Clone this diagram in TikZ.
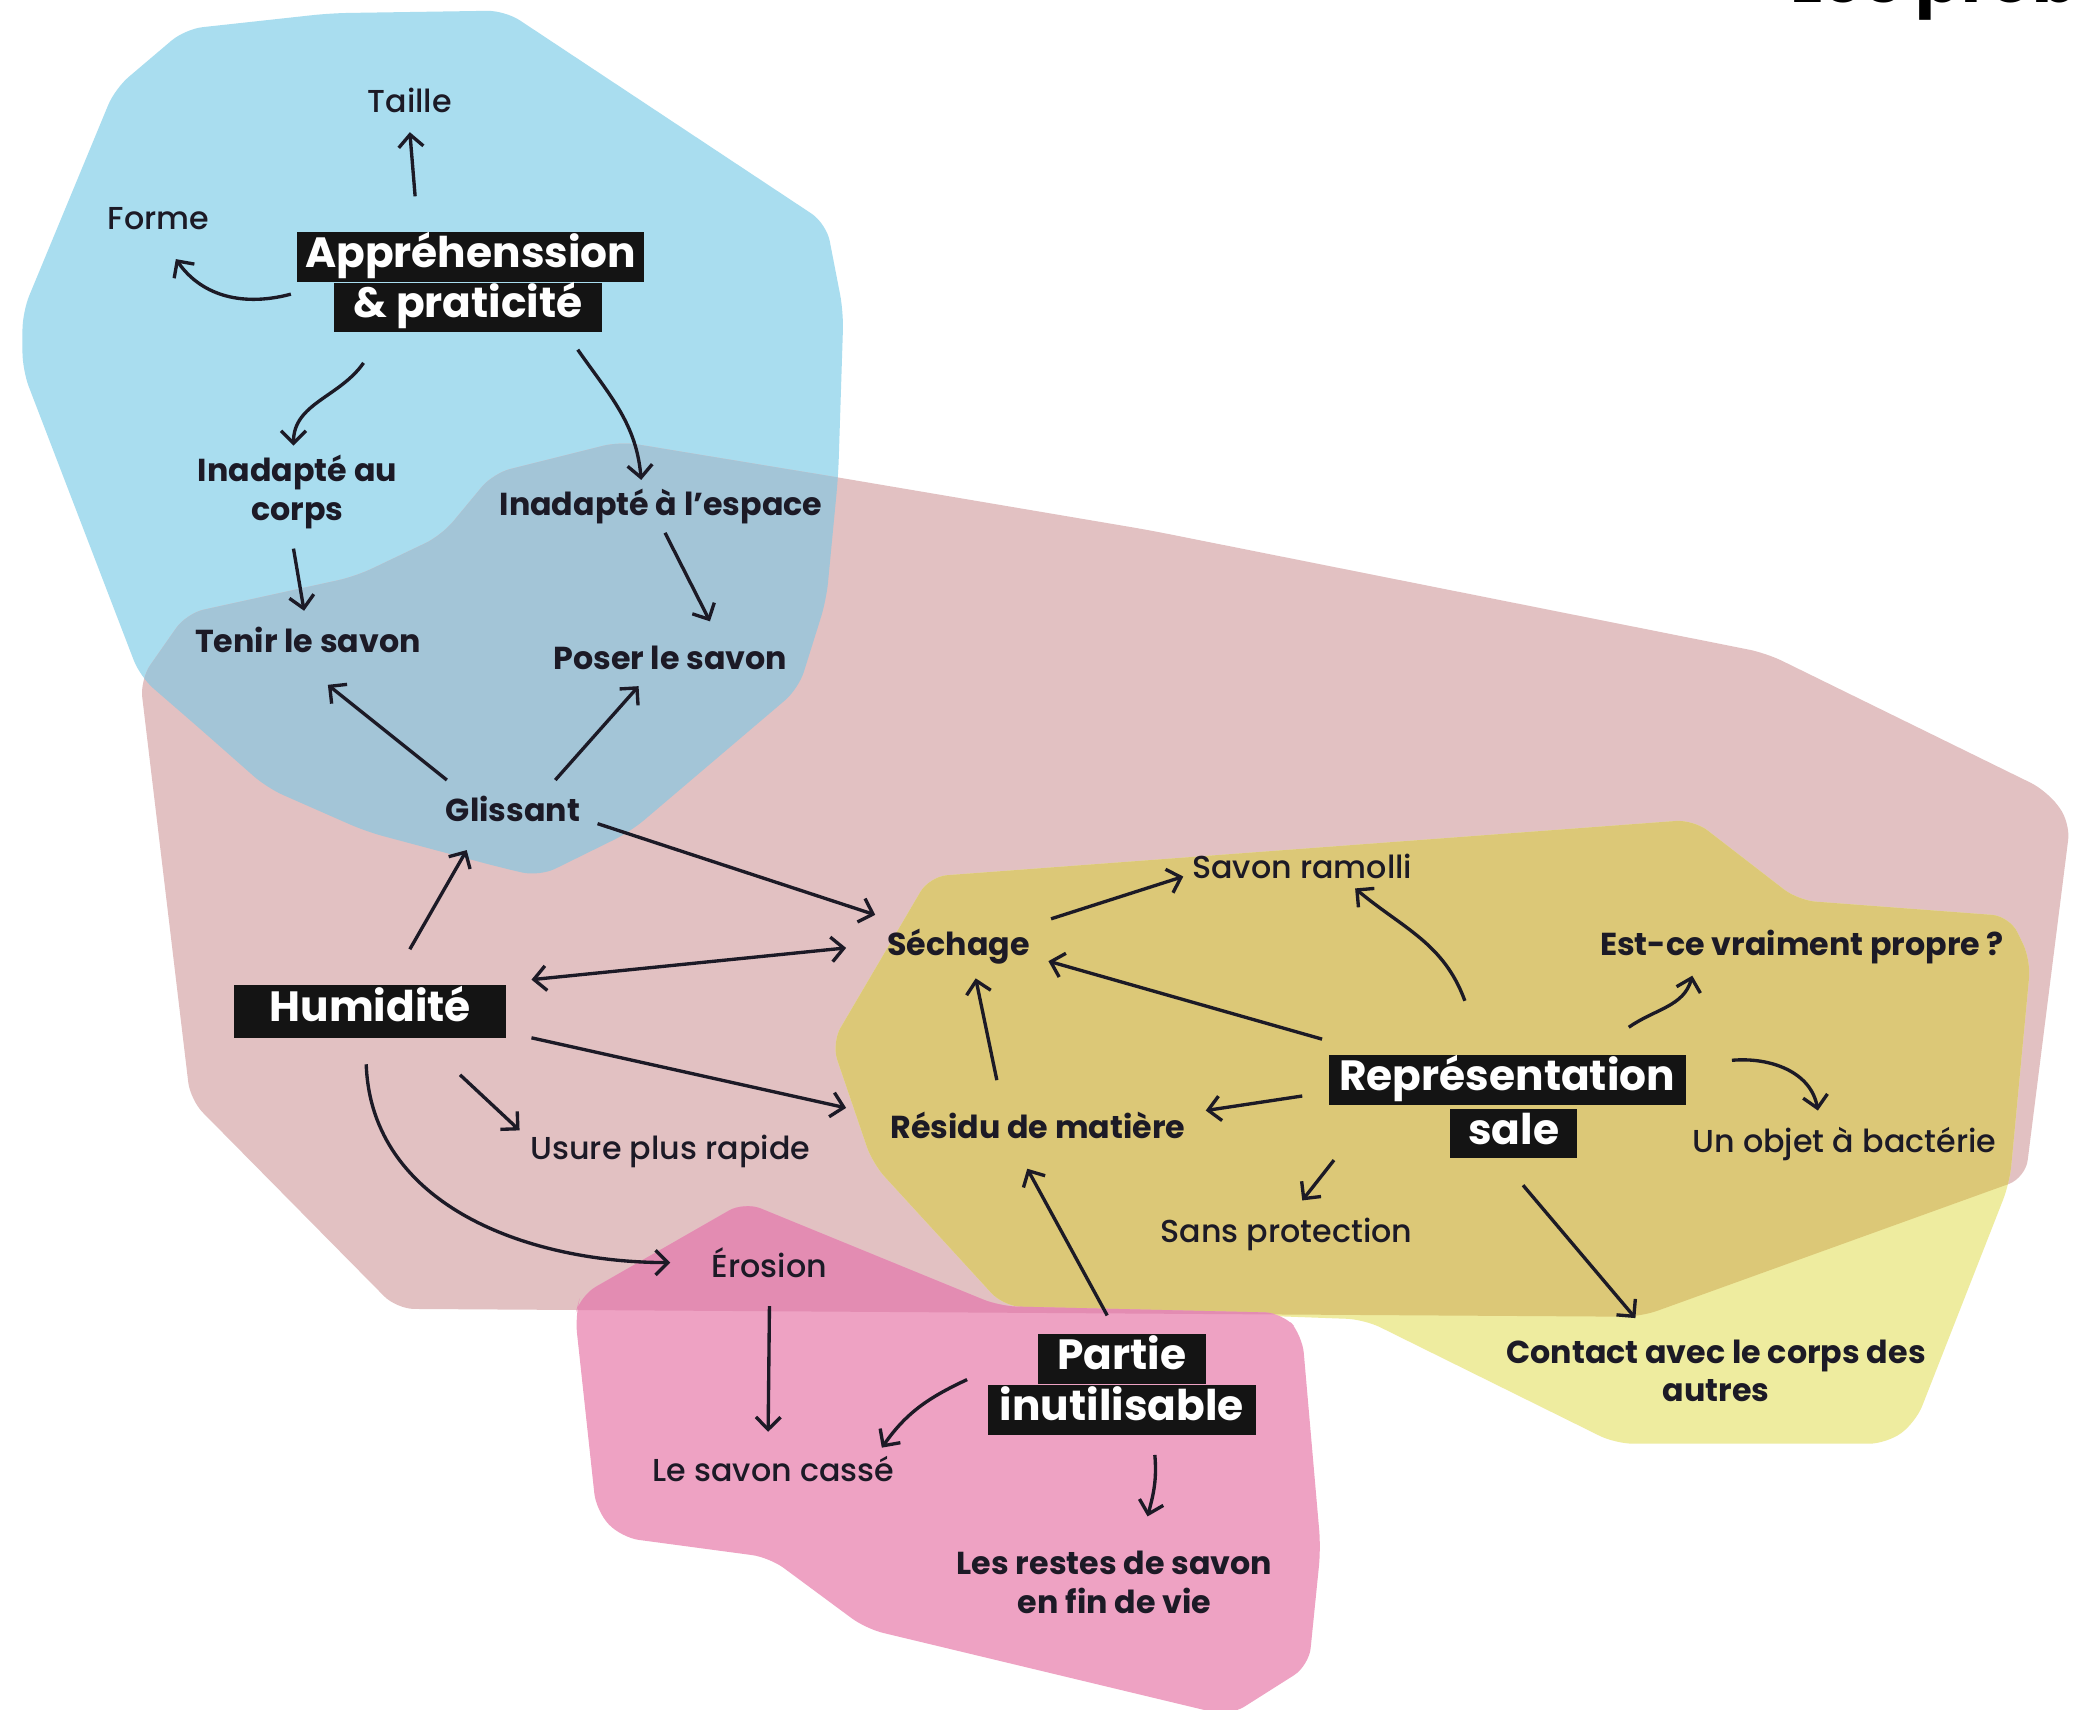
\documentclass[tikz,border=0pt]{standalone}
\usepackage{fontspec}
\setmainfont{Poppins}
\newfontfamily\medfont{Poppins Medium}
\usetikzlibrary{arrows.meta}
\definecolor{ink}{HTML}{1C1A26}
\definecolor{boxblack}{HTML}{141414}
\definecolor{cblue}{HTML}{A9DDEF}
\definecolor{cbluepink}{HTML}{A3C5D7}
\definecolor{cpink}{HTML}{E2C1C2}
\definecolor{cmustard}{HTML}{DCC877}
\definecolor{cyellow}{HTML}{EEEC9F}
\definecolor{cmag}{HTML}{EEA2C3}
\definecolor{cmagdark}{HTML}{E38CB2}
\def\bluepath{(87,67) -- (140,22) -- (250,10) -- (382,8) -- (625,169) -- (638,236) -- (634,360) -- (625,454) -- (604,521) -- (477,629) -- (408,663) -- (378,656) -- (277,629) -- (202,596) -- (151,551) -- (106,512) -- (17,280) -- (17,236) -- cycle}
\def\pinkpath{(106,514) -- (141,464) -- (269,436) -- (334,405) -- (373,358) -- (469,334) -- (633,361) -- (869,401) -- (1336,494) -- (1548,598) -- (1566,622) -- (1532,891) -- (1241,996) -- (300,990) -- (144,832) -- cycle}
\def\yellowpath{(703,663) -- (1281,620) -- (1360,681) -- (1520,693) -- (1536,726) -- (1520,895) -- (1449,1076) -- (1427,1092) -- (1222,1092) -- (1032,998) -- (759,988) -- (660,880) -- (629,789) -- cycle}
\def\magpath{(563,909) -- (439,980) -- (435,995) -- (451,1143) -- (470,1163) -- (582,1178) -- (655,1232) -- (930,1298) -- (990,1260) -- (999,1171) -- (985,1010) -- (970,993) -- (756,988) -- cycle}
\begin{document}
\begin{tikzpicture}[x=0.375pt,y=-0.375pt,
  lb/.style={text=ink, font=\bfseries\fontsize{9}{11}\selectfont, align=center, inner sep=0pt},
  lm/.style={text=ink, font=\medfont\fontsize{9}{11}\selectfont, align=center, inner sep=0pt},
  hl/.style={fill=boxblack, text=white, font=\bfseries\fontsize{12}{14}\selectfont, inner xsep=2pt, inner ysep=1.2pt, text height=8.8pt, text depth=2.8pt, align=center},
  arr/.style={draw=ink, line width=0.95pt, -{Straight Barb[length=3.5pt,width=7pt]}},
  dbl/.style={draw=ink, line width=0.95pt, {Straight Barb[length=3.5pt,width=7pt]}-{Straight Barb[length=3.5pt,width=7pt]}}]
\useasboundingbox (0,0) rectangle (1568,1293);
\fill[white] (0,0) rectangle (1568,1293);
% regions
\fill[cblue, rounded corners=5pt] \bluepath;
\fill[cpink, rounded corners=5pt] \pinkpath;
\begin{scope}
  \clip[rounded corners=5pt] \pinkpath;
  \fill[cbluepink, rounded corners=5pt] \bluepath;
\end{scope}
\fill[cyellow, rounded corners=5pt] \yellowpath;
\begin{scope}
  \clip[rounded corners=5pt] \pinkpath;
  \fill[cmustard, rounded corners=5pt] \yellowpath;
\end{scope}
\fill[cmag, rounded corners=5pt] \magpath;
\begin{scope}
  \clip[rounded corners=5pt] \pinkpath;
  \fill[cmagdark, rounded corners=5pt] \magpath;
\end{scope}
% title fragment
\node[anchor=base west, inner sep=0pt, font=\bfseries\fontsize{19}{22}\selectfont, text=black] (title) at (1354,2) {Les prob};
% boxes
\node[hl, minimum width=98.3pt] (app1) at (356,194.5) {Appréhenssion};
\node[hl, minimum width=75.8pt] (app2) at (354,232.5) {\&~praticité};
\node[hl, minimum width=77.3pt, inner ysep=1.7pt] (hum) at (280,765) {Humidité};
\node[hl, minimum width=101.3pt] (rep1) at (1140,817) {Représentation};
\node[hl, minimum width=36pt] (rep2) at (1145,857.5) {sale};
\node[hl, minimum width=47.6pt] (partie1) at (848.5,1028) {Partie};
\node[hl, minimum width=76.1pt] (partie2) at (848.5,1066.5) {inutilisable};
% labels
\node[lm] (taille) at (310,76) {Taille};
\node[lm] (forme) at (120,165) {Forme};
\node[lb] (inac) at (225,372) {Inadapté au\\corps};
\node[lb] (inae) at (500,383) {Inadapté à l’espace};
\node[lb] (tenir) at (233,484) {Tenir le savon};
\node[lb] (poser) at (507,498) {Poser le savon};
\node[lb] (gliss) at (388,612) {Glissant};
\node[lm] (usure) at (507,871) {Usure plus rapide};
\node[lm] (ero) at (582,955) {Érosion};
\node[lb] (sech) at (725,716) {Séchage};
\node[lm] (ramol) at (985,655) {Savon ramolli};
\node[lb] (propre) at (1363,716) {Est-ce vraiment propre ?};
\node[lb] (resid) at (785,851) {Résidu de matière};
\node[lm] (bact) at (1395,865) {Un objet à bactérie};
\node[lm] (sansp) at (973,934) {Sans protection};
\node[lb] (contact) at (1298,1037) {Contact avec le corps des\\autres};
\node[lm] (casse) at (585,1111) {Le savon cassé};
\node[lb] (restes) at (843,1197) {Les restes de savon\\en fin de vie};
% connectors
\draw[arr] ([shift={(-42,-46)}]app1.center) -- ([shift={(0,24)}]taille.center);
\draw[arr] ([shift={(-134,-10)}]app2.center) to[out=195,in=-55] ([shift={(13,31)}]forme.center);
\draw[arr] ([shift={(-79,42)}]app2.center) to[out=235,in=90] ([shift={(-3,-35)}]inac.center);
\draw[arr] ([shift={(83,32)}]app2.center) to[out=-55,in=95] ([shift={(-15,-20)}]inae.center);
\draw[arr] ([shift={(-3,43)}]inac.center) -- ([shift={(-3,-22)}]tenir.center);
\draw[arr] ([shift={(3,20)}]inae.center) -- ([shift={(30,-28)}]poser.center);
\draw[arr] ([shift={(-50,-22)}]gliss.center) -- ([shift={(15,34)}]tenir.center);
\draw[arr] ([shift={(32,-22)}]gliss.center) -- ([shift={(-24,21)}]poser.center);
\draw[arr] ([shift={(30,-47)}]hum.center) -- ([shift={(-35,31)}]gliss.center);
\draw[arr] ([shift={(64,11)}]gliss.center) -- ([shift={(-63,-24)}]sech.center);
\draw[dbl] ([shift={(122,-24)}]hum.center) -- ([shift={(-85,1)}]sech.center);
\draw[arr] ([shift={(122,20)}]hum.center) -- ([shift={(-145,-13)}]resid.center);
\draw[arr] ([shift={(68,48)}]hum.center) -- ([shift={(-114,-16)}]usure.center);
\draw[arr] ([shift={(-3,40)}]hum.center) to[out=-88,in=180] ([shift={(-75,0)}]ero.center);
\draw[arr] ([shift={(70,-21)}]sech.center) -- ([shift={(-90,8)}]ramol.center);
\draw[arr] ([shift={(-32,-60)}]rep1.center) to[out=110,in=-40] ([shift={(40,17)}]ramol.center);
\draw[arr] ([shift={(-140,-31)}]rep1.center) -- ([shift={(68,11)}]sech.center);
\draw[arr] ([shift={(-31,-34)}]resid.center) -- ([shift={(13,24)}]sech.center);
\draw[arr] ([shift={(-155,12)}]rep1.center) -- ([shift={(127,-11)}]resid.center);
\draw[arr] ([shift={(92,-40)}]rep1.center) to[out=35,in=-105] ([shift={(-83,22)}]propre.center);
\draw[arr] ([shift={(170,-15)}]rep1.center) to[out=5,in=100] ([shift={(-20,-25)}]bact.center);
\draw[arr] ([shift={(-136,20)}]rep2.center) -- ([shift={(12,-26)}]sansp.center);
\draw[arr] ([shift={(7,39)}]rep2.center) -- ([shift={(-61,-40)}]contact.center);
\draw[arr] ([shift={(-11,-33)}]partie1.center) -- ([shift={(-8,33)}]resid.center);
\draw[arr] ([shift={(0,33)}]ero.center) -- ([shift={(-4,-28)}]casse.center);
\draw[arr] ([shift={(-117,-23)}]partie2.center) to[out=205,in=55] ([shift={(82,-16)}]casse.center);
\draw[arr] ([shift={(25,34)}]partie2.center) to[out=-85,in=75] ([shift={(25,-50)}]restes.center);
\end{tikzpicture}
\end{document}
